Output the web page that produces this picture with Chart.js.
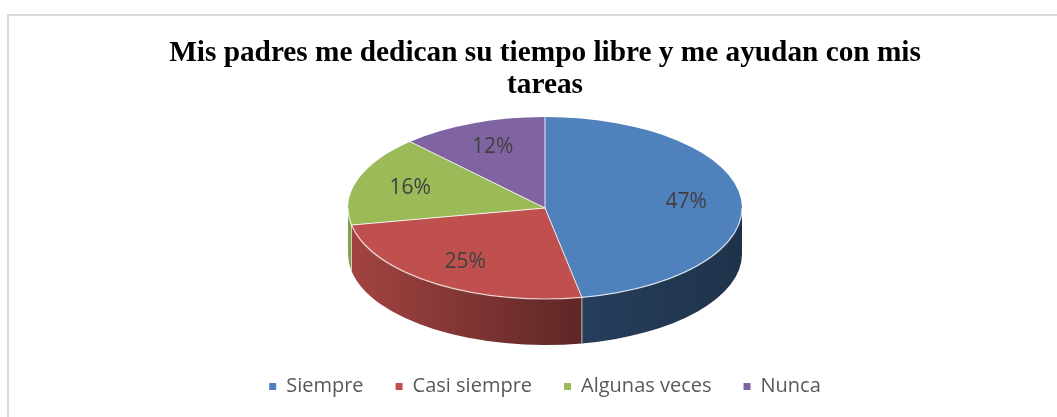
<!DOCTYPE html>
<html>
<head>
<meta charset="utf-8">
<script src="https://cdn.jsdelivr.net/npm/chart.js@4.4.1/dist/chart.umd.min.js"></script>
<style>
  html, body { margin: 0; padding: 0; background: #fff; }
  #wrap { position: relative; width: 1057px; height: 417px; overflow: hidden; }
  #frame { position: absolute; left: 7px; top: 14px; width: 1100px; height: 500px;
           border-left: 2px solid #d9d9d9; border-top: 2px solid #d9d9d9; }
  canvas { position: absolute; left: 0; top: 0; }
</style>
</head>
<body>
<div id="wrap">
  <div id="frame"></div>
  <canvas id="pie" width="1057" height="417"></canvas>
</div>
<script>
const labels = ['Siempre', 'Casi siempre', 'Algunas veces', 'Nunca'];
const values = [47, 25, 16, 12];
const colors = ['#4F81BD', '#C0504D', '#9BBB59', '#8064A2'];
const titleLines = ['Mis padres me dedican su tiempo libre y me ayudan con mis', 'tareas'];

const tilt = 91 / 197;   // how flat the top of the pie looks
const depth = 46;        // thickness of the pie wall

// darken a hex colour by a factor
const shade = (hex, f) => {
    const n = parseInt(hex.slice(1), 16);
    const r = Math.round(((n >> 16) & 255) * f);
    const g = Math.round(((n >> 8) & 255) * f);
    const b = Math.round((n & 255) * f);
    return `rgb(${r},${g},${b})`;
};

// fake 3d: draw the wall, then squash the arcs Chart.js draws
const pie3d = {
    id: 'pie3d',
    beforeDatasetsDraw(chart) {
        const ctx = chart.ctx;
        const arcs = chart.getDatasetMeta(0).data;
        if (!arcs.length) return;
        const { x: cx, y: cy, outerRadius: R } = arcs[0];
        const ry = R * tilt;

        arcs.forEach((arc, i) => {
            // only the front half of the wall is visible
            const s = Math.max(arc.startAngle, 0);
            const e = Math.min(arc.endAngle, Math.PI);
            if (s >= e) return;
            ctx.beginPath();
            ctx.ellipse(cx, cy, R, ry, 0, s, e, false);
            ctx.ellipse(cx, cy + depth, R, ry, 0, e, s, true);
            ctx.closePath();
            const g = ctx.createLinearGradient(cx - R, 0, cx + R, 0);
            g.addColorStop(0, shade(colors[i], 0.85));
            g.addColorStop(0.61, shade(colors[i], 0.48));
            g.addColorStop(1, shade(colors[i], 0.39));
            ctx.fillStyle = g;
            ctx.fill();
        });

        // seams on the wall
        ctx.strokeStyle = 'rgba(220,220,220,0.8)';
        ctx.lineWidth = 1;
        arcs.forEach(arc => {
            const a = arc.startAngle;
            if (a <= 0 || a >= Math.PI) return;
            const px = cx + R * Math.cos(a), py = cy + ry * Math.sin(a);
            ctx.beginPath();
            ctx.moveTo(px, py);
            ctx.lineTo(px, py + depth);
            ctx.stroke();
        });

        ctx.save();
        ctx.translate(cx, cy);
        ctx.scale(1, tilt);
        ctx.translate(-cx, -cy);
    },
    afterDatasetsDraw(chart) {
        const ctx = chart.ctx;
        ctx.restore();
        const arcs = chart.getDatasetMeta(0).data;
        if (!arcs.length) return;
        const { x: cx, y: cy, outerRadius: R } = arcs[0];
        const ry = R * tilt;

        // slice separators on the top face
        ctx.strokeStyle = 'rgba(255,255,255,0.85)';
        ctx.lineWidth = 1;
        arcs.forEach(arc => {
            const a = arc.startAngle;
            ctx.beginPath();
            ctx.moveTo(cx, cy);
            ctx.lineTo(cx + R * Math.cos(a), cy + ry * Math.sin(a));
            ctx.stroke();
        });

        // light rim along the front edge
        ctx.strokeStyle = 'rgba(255,255,255,0.7)';
        ctx.lineWidth = 1.2;
        ctx.beginPath();
        ctx.ellipse(cx, cy, R, ry, 0, 0, Math.PI, false);
        ctx.stroke();

        // percentage labels
        ctx.fillStyle = '#404040';
        ctx.font = '21px "Open Sans"';
        ctx.textAlign = 'center';
        ctx.textBaseline = 'middle';
        arcs.forEach((arc, i) => {
            const mid = (arc.startAngle + arc.endAngle) / 2;
            const r = R * 0.72;
            ctx.fillText(values[i] + '%', cx + r * Math.cos(mid), cy + r * tilt * Math.sin(mid));
        });
    }
};

new Chart(document.getElementById('pie'), {
    type: 'pie',
    data: {
        labels: labels,
        datasets: [{
            data: values,
            backgroundColor: colors,
            borderWidth: 0,
            radius: 197
        }]
    },
    options: {
        responsive: false,
        animation: false,
        events: [],
        layout: { padding: { left: 33, right: 0, top: 0, bottom: 10.5 } },
        plugins: {
            title: {
                display: true,
                text: titleLines,
                color: '#000',
                font: { family: 'Liberation Serif', size: 29.3, weight: 'bold', lineHeight: 1.082 },
                padding: { top: 37.6, bottom: -29.5 }
            },
            legend: {
                position: 'bottom',
                labels: {
                    boxWidth: 7,
                    boxHeight: 7,
                    padding: 32,
                    color: '#595959',
                    font: { family: 'Open Sans', size: 20 }
                }
            },
            tooltip: { enabled: false }
        }
    },
    plugins: [pie3d]
});
</script>
</body>
</html>
